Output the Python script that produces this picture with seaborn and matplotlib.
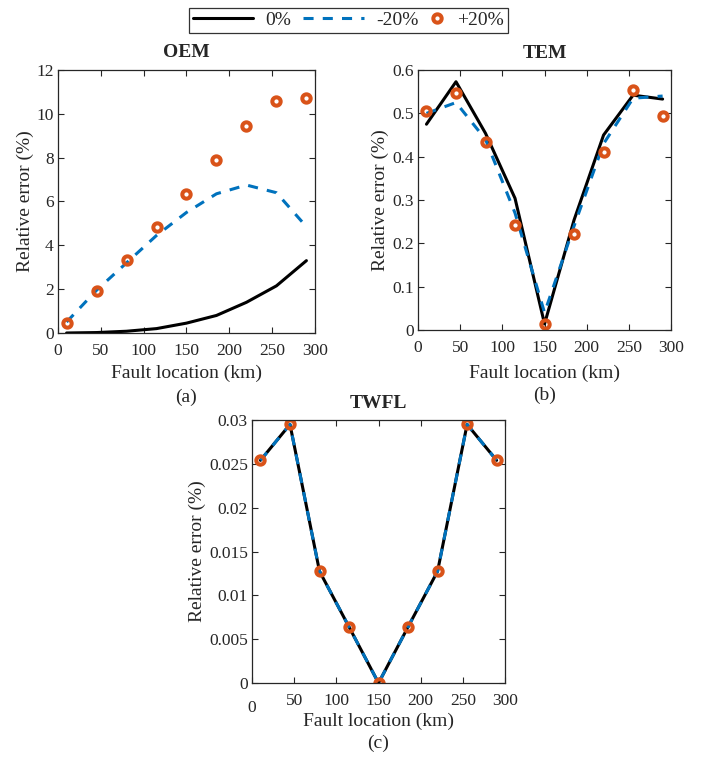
import numpy as np
import pandas as pd
import seaborn as sns
import matplotlib.pyplot as plt
import matplotlib.transforms as mtransforms
from matplotlib.lines import Line2D
from matplotlib.legend_handler import HandlerLine2D

# fault locations (km)
loc_km = [10, 45, 80, 115, 150, 185, 220, 255, 290]

# OEM relative errors (%)
oem_0 = [0.0, 0.02, 0.08, 0.2, 0.45, 0.8, 1.4, 2.15, 3.3]
oem_m20 = [0.5, 1.95, 3.2, 4.45, 5.5, 6.35, 6.75, 6.4, 4.85]
oem_p20 = [0.46, 1.9, 3.34, 4.85, 6.32, 7.87, 9.45, 10.6, 10.74]

# TEM relative errors (%)
tem_0 = [0.475, 0.573, 0.454, 0.304, 0.014, 0.254, 0.45, 0.542, 0.533]
tem_m20 = [0.50, 0.525, 0.44, 0.27, 0.04, 0.24, 0.43, 0.535, 0.54]
tem_p20 = [0.506, 0.546, 0.435, 0.242, 0.014, 0.222, 0.411, 0.554, 0.494]

# TWFL relative errors (%) - same for all three cases
twfl_0 = [0.0254, 0.0295, 0.01275, 0.0064, 0.0, 0.0064, 0.01275, 0.0295, 0.0254]
twfl_m20 = [0.0254, 0.0295, 0.01275, 0.0064, 0.0, 0.0064, 0.01275, 0.0295, 0.0254]
twfl_p20 = [0.0254, 0.0295, 0.01275, 0.0064, 0.0, 0.0064, 0.01275, 0.0295, 0.0254]

series_labels = ['0%', '-20%', '+20%']
c_black, c_blue, c_orange = 'black', '#0072BD', '#D95319'
dash = (0, (3.3, 3.0))
mk = dict(marker='o', markersize=6, markerfacecolor='none',
          markeredgecolor=c_orange, markeredgewidth=2.9)

sns.set_theme(style='ticks')
plt.rcParams['font.family'] = ['Liberation Serif', 'DejaVu Serif']

fig = plt.figure(figsize=(7.04, 7.58), dpi=100)
ax_a = fig.add_axes([0.0824, 0.5607, 0.365, 0.347])
ax_b = fig.add_axes([0.5938, 0.5646, 0.3594, 0.343])
ax_c = fig.add_axes([0.358, 0.0989, 0.3594, 0.347])


def draw(ax, y0, ym, yp, ylim, yticks, title, tag, xlab_y, tag_y):
    df = pd.DataFrame({'x': loc_km, 'y0': y0, 'ym': ym, 'yp': yp})
    sns.lineplot(data=df, x='x', y='y0', ax=ax, color=c_black, lw=2.2)
    sns.lineplot(data=df, x='x', y='ym', ax=ax, color=c_blue, lw=2.2,
                 linestyle=dash)
    sns.lineplot(data=df, x='x', y='yp', ax=ax, linestyle='', **mk)
    ax.set_xlim(0, 300)
    ax.set_ylim(*ylim)
    ax.set_xticks([0, 50, 100, 150, 200, 250, 300])
    ax.set_yticks(yticks)
    ax.set_yticklabels(['%g' % v for v in yticks])
    ax.tick_params(direction='in', top=True, right=True, length=4,
                   width=0.8, labelsize=12.5, colors='#262626')
    ax.tick_params(axis='x', pad=7.5)
    ax.tick_params(axis='y', pad=3)
    for s in ax.spines.values():
        s.set_color('#262626')
        s.set_linewidth(0.9)
    ax.set_xlabel('Fault location (km)', fontsize=14)
    ax.xaxis.set_label_coords(0.5, xlab_y)
    ax.xaxis.label.set_va('center')
    ax.set_ylabel('Relative error (%)', fontsize=14, labelpad=2)
    ax.set_title(title, fontsize=14, fontweight='bold', pad=9)
    ax.text(0.5, tag_y, tag, transform=ax.transAxes, ha='center',
            va='center', fontsize=14)


draw(ax_a, oem_0, oem_m20, oem_p20, (0, 12), [0, 2, 4, 6, 8, 10, 12],
     'OEM', '(a)', -0.152, -0.245)
draw(ax_b, tem_0, tem_m20, tem_p20, (0, 0.6),
     [0, 0.1, 0.2, 0.3, 0.4, 0.5, 0.6], 'TEM', '(b)', -0.165, -0.252)
draw(ax_c, twfl_0, twfl_m20, twfl_p20, (0, 0.03),
     [0, 0.005, 0.01, 0.015, 0.02, 0.025, 0.03], 'TWFL', '(c)',
     -0.1445, -0.23)

# the "0" x tick of (c) sits a bit lower in the original
lbl0 = ax_c.get_xticklabels()[0]
lbl0.set_transform(lbl0.get_transform() +
                   mtransforms.ScaledTranslation(0, -4.5 / 72, fig.dpi_scale_trans))


class NarrowMarkerHandler(HandlerLine2D):
    # marker-only legend entry gets a short handle box, like MATLAB
    def legend_artist(self, legend, orig_handle, fontsize, handlebox):
        handlebox.width = 0.75 * fontsize
        return super().legend_artist(legend, orig_handle, fontsize, handlebox)


h_line = Line2D([], [], color=c_black, lw=2.2)
h_dash = Line2D([], [], color=c_blue, lw=2.2, linestyle=dash)
h_mark = Line2D([], [], linestyle='', **mk)
leg = fig.legend([h_line, h_dash, h_mark], series_labels, loc='upper center',
                 bbox_to_anchor=(0.495, 0.995), ncol=3, fontsize=14,
                 frameon=True, fancybox=False, handlelength=3.1,
                 columnspacing=0.6, handletextpad=0.65, borderpad=0.2,
                 borderaxespad=0.2,
                 handler_map={h_mark: NarrowMarkerHandler(numpoints=1)})
leg.get_frame().set_edgecolor('black')
leg.get_frame().set_linewidth(0.9)

fig.savefig('out.png', dpi=100)
